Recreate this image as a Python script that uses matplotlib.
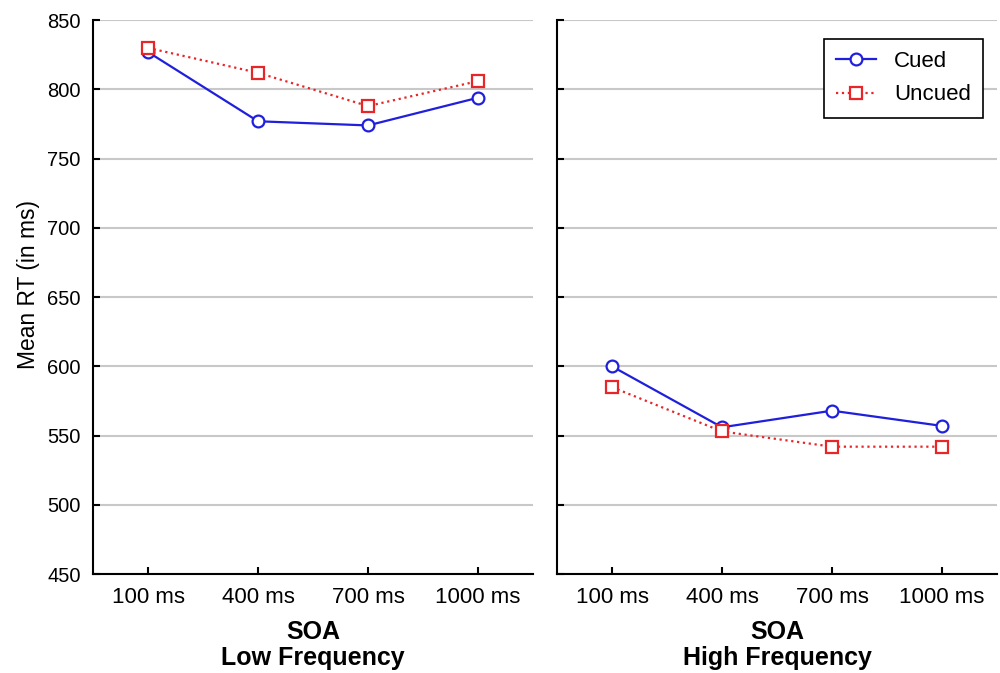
import matplotlib
matplotlib.use("Agg")
import matplotlib.pyplot as plt

plt.rcParams['font.family'] = ['Liberation Sans', 'DejaVu Sans']

soa_labels = ["100 ms", "400 ms", "700 ms", "1000 ms"]
low_cued = [827, 777, 774, 794]
low_uncued = [830, 812, 788, 806]
high_cued = [600, 556, 568, 557]
high_uncued = [585, 553, 542, 542]
yticks = [450, 500, 550, 600, 650, 700, 750, 800, 850]
panel_titles = ["Low Frequency", "High Frequency"]

blue = '#1f1fdc'
red = '#e8262a'

fig = plt.figure(figsize=(10, 6.73), dpi=100)
ax1 = fig.add_axes([0.093, 0.147, 0.44, 0.823])
ax2 = fig.add_axes([0.557, 0.147, 0.44, 0.823])

x = list(range(len(soa_labels)))
for ax, cued, uncued, title in [(ax1, low_cued, low_uncued, panel_titles[0]),
                                 (ax2, high_cued, high_uncued, panel_titles[1])]:
    ax.set_ylim(450, 850)
    ax.set_xlim(-0.5, 3.5)
    ax.set_yticks(yticks)
    ax.yaxis.grid(True, color='#c8c8c8', linewidth=1.5)
    ax.set_axisbelow(True)
    ax.plot(x, cued, color=blue, linestyle='-', linewidth=1.6, marker='o',
            markersize=8.5, markerfacecolor='white', markeredgecolor=blue,
            markeredgewidth=1.6, label='Cued', zorder=3)
    ax.plot(x, uncued, color=red, linestyle=':', linewidth=1.6, marker='s',
            markersize=8, markerfacecolor='white', markeredgecolor=red,
            markeredgewidth=1.6, label='Uncued', zorder=3)
    ax.set_xticks(x)
    ax.set_xticklabels(soa_labels)
    for s in ['top', 'right']:
        ax.spines[s].set_visible(False)
    for s in ['left', 'bottom']:
        ax.spines[s].set_linewidth(1.5)
    ax.tick_params(direction='in', length=5, width=1.5)
    ax.tick_params(axis='x', pad=9, labelsize=16)
    ax.tick_params(axis='y', pad=9, labelsize=14.5)
    ax.set_xlabel("SOA\n" + title, fontsize=18, fontweight='bold', labelpad=9,
                  linespacing=1.12)

ax1.set_ylabel("Mean RT (in ms)", fontsize=16.4)
ax1.yaxis.set_label_coords(-0.12, 0.522)
ax2.tick_params(axis='y', labelleft=False)

leg = ax2.legend(loc='upper right', bbox_to_anchor=(0.968, 0.966), fontsize=16,
                 frameon=True, fancybox=False, handlelength=1.8,
                 borderpad=0.55, labelspacing=0.55, borderaxespad=0,
                 handletextpad=0.8)
leg.get_frame().set_edgecolor('black')
leg.get_frame().set_linewidth(1.2)
leg.get_frame().set_alpha(1)

fig.savefig("out.png", dpi=100)
